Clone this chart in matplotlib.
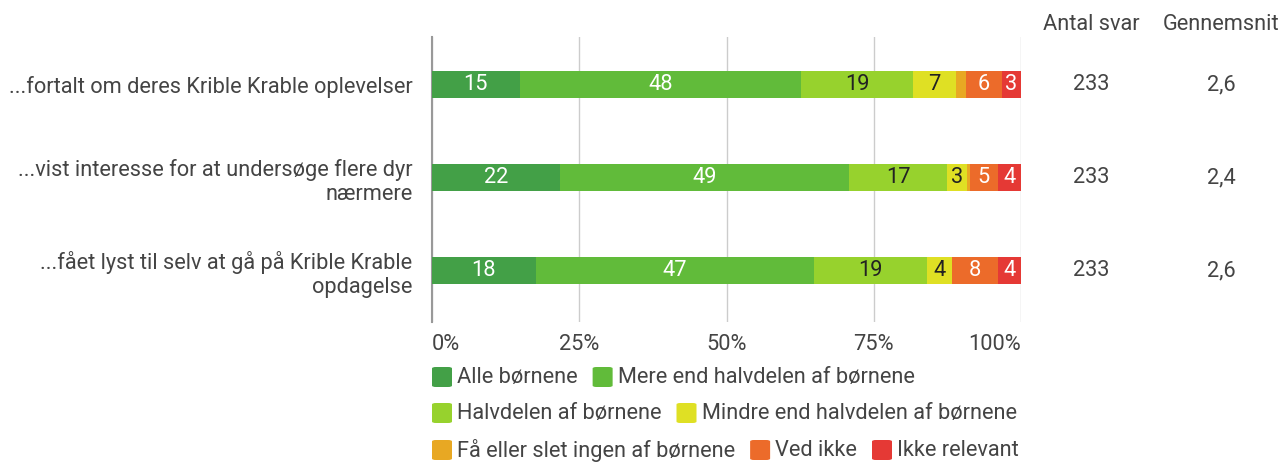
import numpy as np
import matplotlib
matplotlib.use("Agg")
from matplotlib import pyplot as plt
import matplotlib.patches as mpatches
import matplotlib.transforms as mtransforms

plt.rcParams['font.family'] = ['Roboto', 'DejaVu Sans']

# Data (percent of answers)
questions = ["...fortalt om deres Krible Krable oplevelser",
             "...vist interesse for at undersøge flere dyr\nnærmere",
             "...fået lyst til selv at gå på Krible Krable\nopdagelse"]
categories = ["Alle børnene", "Mere end halvdelen af børnene", "Halvdelen af børnene",
              "Mindre end halvdelen af børnene", "Få eller slet ingen af børnene",
              "Ved ikke", "Ikke relevant"]
alle = [14.9, 21.8, 17.6]
mere = [47.8, 49.0, 47.2]
halv = [18.9, 16.7, 19.2]
mindre = [7.4, 3.4, 4.3]
faa = [1.7, 0.4, 0.0]
vedikke = [6.0, 4.8, 7.8]
ikkerel = [3.3, 3.9, 3.9]
antal_svar = [233, 233, 233]
gennemsnit = ["2,6", "2,4", "2,6"]
xticks = [0, 25, 50, 75, 100]
xticklabels = ["0%", "25%", "50%", "75%", "100%"]

colors = ["#43a047", "#61bb3a", "#97d22d", "#dfe024", "#e8a823", "#ec6b2a", "#e53935"]
textcolors = ["white", "white", "#222222", "#222222", "#222222", "white", "white"]
grey = "#444444"
fs = 15.7

series = [alle, mere, halv, mindre, faa, vedikke, ikkerel]

W, H = 1281, 462
fig = plt.figure(figsize=(W/100, H/100), dpi=100)
ax = fig.add_axes([432/W, 1-322/H, (1021-432)/W, (322-37)/H])

y = np.arange(len(questions))
left = np.zeros(len(questions))
for vals, col, tc in zip(series, colors, textcolors):
    vals = np.array(vals)
    ax.barh(y, vals, left=left, height=0.29, color=col, zorder=3)
    for yi, (l, v) in enumerate(zip(left, vals)):
        if v >= 2.5:
            ax.text(l + v/2, yi, "%d" % round(v), ha='center', va='center',
                    color=tc, fontsize=fs, zorder=4)
    left = left + vals

ax.set_xlim(0, 100)
ax.set_ylim(2.55, -0.51)
ax.set_xticks(xticks)
ax.set_xticklabels(xticklabels)
ax.set_yticks(y)
ax.set_yticklabels(questions)
for lab in ax.get_yticklabels():
    lab.set_multialignment('right')
tl = ax.get_xticklabels()
tl[0].set_ha('left')
tl[-1].set_ha('right')
ax.tick_params(axis='x', length=0, pad=9, labelsize=fs, labelcolor=grey)
ax.tick_params(axis='y', length=0, pad=14, labelsize=fs, labelcolor=grey)
for s in ['top', 'right', 'bottom']:
    ax.spines[s].set_visible(False)
ax.spines['left'].set_color('#999999')
ax.spines['left'].set_linewidth(1.5)
ax.grid(axis='x', color='#cccccc', linewidth=1, zorder=0)
ax.grid(axis='y', visible=False)

# right-hand columns
trans = mtransforms.blended_transform_factory(fig.transFigure, ax.transData)
fig.text(1091/W, 1-25/H, "Antal svar", ha='center', va='center', fontsize=fs, color=grey)
fig.text(1221/W, 1-25/H, "Gennemsnit", ha='center', va='center', fontsize=fs, color=grey)
for yi in y:
    ax.text(1091/W, yi, str(antal_svar[yi]), transform=trans, ha='center', va='center',
            fontsize=fs, color=grey)
    ax.text(1221/W, yi, gennemsnit[yi], transform=trans, ha='center', va='center',
            fontsize=fs, color=grey)

# legend, wrapped like the original
fig.canvas.draw()
renderer = fig.canvas.get_renderer()
x0, xmax = 432, 1030
row_y = [377, 413, 450]
px, row = x0, 0
box = 20
for cat, col in zip(categories, colors):
    t = fig.text(0, 0, cat, fontsize=fs, color=grey, va='center', ha='left')
    tw = t.get_window_extent(renderer).width
    item_w = box + 5 + tw
    if px + item_w > xmax and px > x0:
        row += 1
        px = x0
    yc = row_y[row]
    fig.patches.append(mpatches.FancyBboxPatch((px/W, (H-yc-box/2)/H), box/W, box/H,
                       boxstyle="round,pad=0,rounding_size=0.003", transform=fig.transFigure,
                       facecolor=col, edgecolor='none'))
    t.set_position(((px + box + 5)/W, 1 - yc/H))
    px += item_w + 15

fig.savefig("out.png", dpi=100)
